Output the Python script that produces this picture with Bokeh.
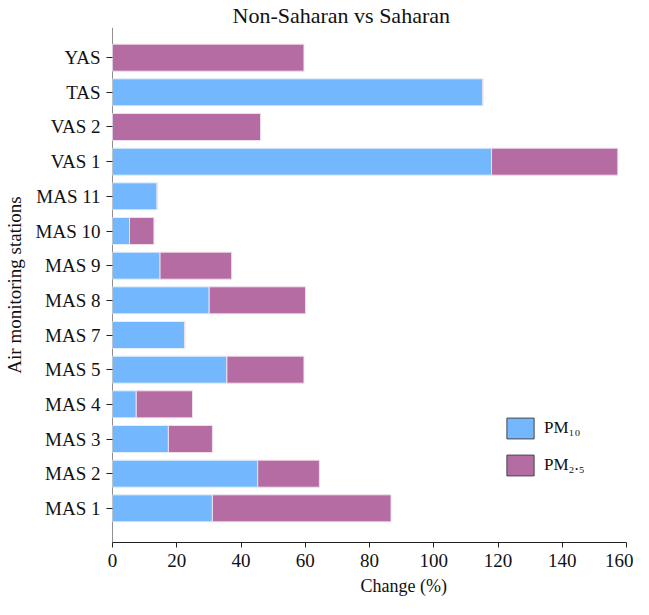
from bokeh.plotting import figure
from bokeh.models import (Range1d, FixedTicker, Span, Legend, LegendItem,
                          ColumnDataSource, Title)
from bokeh.embed import file_html
from bokeh.resources import INLINE

# ---- data ----
stations = ["MAS 1", "MAS 2", "MAS 3", "MAS 4", "MAS 5", "MAS 7", "MAS 8",
            "MAS 9", "MAS 10", "MAS 11", "VAS 1", "VAS 2", "TAS", "YAS"]
pm10 = [31.1, 45.2, 17.4, 7.4, 35.6, 22.5, 30.1, 14.8, 5.3, 13.9, 118.0, 0.0, 115.3, 0.0]
pm25 = [55.6, 19.2, 13.7, 17.5, 24.0, 0.0, 30.0, 22.3, 7.6, 0.0, 39.3, 46.1, 0.0, 59.6]
x_ticks = [0, 20, 40, 60, 80, 100, 120, 140, 160]

BLUE = "#73B8FE"
PURPLE = "#B46CA2"
FONT = "Liberation Serif"

ypos = list(range(len(stations)))
total = [a + b for a, b in zip(pm10, pm25)]
src = ColumnDataSource(dict(y=ypos, pm10=pm10, total=total))

p = figure(width=633, height=599, output_backend="svg", toolbar_location=None,
           x_range=Range1d(0, 160), y_range=Range1d(-0.985, 13.87),
           min_border_left=109, min_border_right=7, min_border_top=16,
           min_border_bottom=50, outline_line_color=None)

# y axis line drawn under the bars
p.add_layout(Span(location=0, dimension="height", line_color="#222222",
                  line_width=1, level="underlay"))

p.hbar(y="y", left=0, right="pm10", height=0.78, source=src,
       fill_color=BLUE, line_color="#E6EEF8", line_width=1)
p.hbar(y="y", left="pm10", right="total", height=0.78, source=src,
       fill_color=PURPLE, line_color="#EEE0EC", line_width=1)

# legend proxies (hidden renderers, only used for the legend swatches)
r1 = p.hbar(y="y", left=0, right="pm10", height=0.78, source=src,
            fill_color=BLUE, line_color="#444444", line_width=1, visible=False)
r2 = p.hbar(y="y", left="pm10", right="total", height=0.78, source=src,
            fill_color=PURPLE, line_color="#444444", line_width=1, visible=False)
legend = Legend(items=[LegendItem(label="PM\u2081\u2080", renderers=[r1]),
                       LegendItem(label="PM\u2082.\u2085", renderers=[r2])],
                location=(391, 64), padding=0, margin=0, spacing=11,
                glyph_width=34, glyph_height=26, label_standoff=7,
                border_line_color=None, background_fill_alpha=0,
                inactive_fill_alpha=0, click_policy="none",
                label_text_font=FONT, label_text_font_size="17px",
                label_text_color="#111111")
p.add_layout(legend, "center")

p.xgrid.visible = False
p.ygrid.visible = False

# title
p.title.text = "Non-Saharan vs Saharan"
p.title.text_font = FONT
p.title.text_font_size = "22px"
p.title.text_font_style = "normal"
p.title.text_color = "#111111"
p.title.align = "left"
p.title.offset = 120
p.title.standoff = 0

# x axis
xa = p.xaxis[0]
xa.ticker = FixedTicker(ticks=x_ticks)
xa.minor_tick_line_color = None
xa.major_tick_in = 0
xa.major_tick_out = 5
xa.axis_line_color = "#222222"
xa.major_tick_line_color = "#222222"
xa.major_label_text_font = FONT
xa.major_label_text_font_size = "19px"
xa.major_label_text_color = "#111111"
xa.major_label_standoff = 6

# x axis title, offset to the right as in the original
p.add_layout(Title(text="Change (%)", align="left", offset=248, standoff=8,
                   text_font=FONT, text_font_size="18px",
                   text_font_style="normal", text_color="#111111"), "below")

# y axis
ya = p.yaxis[0]
ya.ticker = FixedTicker(ticks=ypos)
ya.major_label_overrides = {i: s for i, s in zip(ypos, stations)}
ya.minor_tick_line_color = None
ya.major_tick_in = 0
ya.major_tick_out = 6
ya.axis_line_color = None
ya.major_tick_line_color = "#222222"
ya.major_label_text_font = FONT
ya.major_label_text_font_size = "19px"
ya.major_label_text_color = "#111111"
ya.major_label_standoff = 6
ya.axis_label = "Air monitoring stations"
ya.axis_label_text_font = FONT
ya.axis_label_text_font_size = "19px"
ya.axis_label_text_font_style = "normal"
ya.axis_label_text_color = "#111111"
ya.axis_label_standoff = 8

open("out.html", "w").write(file_html(p, INLINE))
